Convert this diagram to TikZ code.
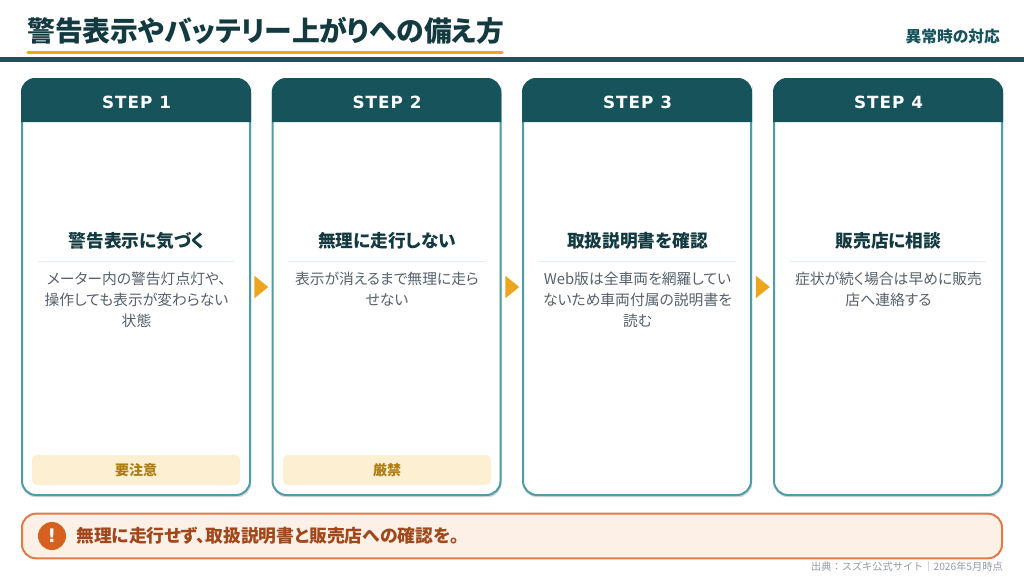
\documentclass[tikz,border=0pt]{standalone}
\usepackage{fontspec}
\usepackage{tikz}
\usetikzlibrary{shapes.geometric}
\setmainfont[RawFeature=+palt]{Noto Sans CJK JP}
\newfontfamily\sourcefont{Noto Sans CJK JP}
\newfontfamily\stepfont[LetterSpace=6]{DejaVu Sans}

\definecolor{tealdark}{HTML}{17535B}
\definecolor{tealline}{HTML}{4F9CA8}
\definecolor{inkdark}{HTML}{123A40}
\definecolor{inkgray}{HTML}{56616B}
\definecolor{rulelight}{HTML}{DCEEF0}
\definecolor{amber}{HTML}{EBA51E}
\definecolor{badgefill}{HTML}{FDEFD2}
\definecolor{badgeink}{HTML}{AE7C12}
\definecolor{notefill}{HTML}{FDF0E7}
\definecolor{noteline}{HTML}{E07C4A}
\definecolor{noteink}{HTML}{A0471B}
\definecolor{noteicon}{HTML}{D5601F}
\definecolor{sourceink}{HTML}{939CA5}

\begin{document}
\begin{tikzpicture}[x=0.75pt,y=-0.75pt,
    card/.style={rectangle,draw=tealline,line width=1.5pt,fill=white,rounded corners=10.5pt,
        minimum width=171pt,minimum height=312pt,inner sep=0pt},
    shade/.style={rectangle,fill=black!16,rounded corners=10.5pt,
        minimum width=172pt,minimum height=313pt,inner sep=0pt},
    stephead/.style={text=white,font=\stepfont\bfseries\fontsize{12.6pt}{15pt}\selectfont,inner sep=0pt},
    steptitle/.style={text=inkdark,font=\bfseries\fontsize{13.25pt}{15pt}\selectfont,inner sep=0pt},
    stepbody/.style={text=inkgray,align=center,font=\fontsize{11.1pt}{15.75pt}\selectfont,inner sep=0pt},
    badge/.style={rectangle,fill=badgefill,rounded corners=3.75pt,minimum width=156pt,minimum height=22.5pt,
        inner sep=0pt,text=badgeink,font=\bfseries\fontsize{10.5pt}{12pt}\selectfont},
    arrowmark/.style={isosceles triangle,isosceles triangle apex angle=79,isosceles triangle stretches,fill=amber,
        minimum height=10.5pt,minimum width=17pt,inner sep=0pt,anchor=west}]

\useasboundingbox (0,0) rectangle (1024,576);
\fill[white] (0,0) rectangle (1024,576);

% Title bar
\node[anchor=west,inner sep=0pt,text=inkdark,font=\bfseries\fontsize{20.85pt}{24pt}\selectfont] (title) at (27,31) {警告表示やバッテリー上がりへの備え方};
\node[anchor=east,inner sep=0pt,text=tealdark,font=\bfseries\fontsize{11.8pt}{14pt}\selectfont] (section) at (1000,36.5) {異常時の対応};
\draw[amber,line width=2.4pt,line cap=round] (28,52.5) -- (502,52.5);
\fill[tealdark] (0,57) rectangle (1024,62);

% Card shadows
\node[shade] at (136.5,288.5) {};
\node[shade] at (387,288.5) {};
\node[shade] at (637.5,288.5) {};
\node[shade] at (888.5,288.5) {};

% Cards
\node[card] (card1) at (136,287) {};
\node[card] (card2) at (386.5,287) {};
\node[card] (card3) at (637,287) {};
\node[card] (card4) at (888,287) {};

% Card headers
\fill[tealdark] (21,122) [rounded corners=10.5pt] -- (21,78) -- (251,78) -- (251,100) [sharp corners] -- (251,122) -- cycle;
\fill[tealdark] (272,122) [rounded corners=10.5pt] -- (272,78) -- (501,78) -- (501,100) [sharp corners] -- (501,122) -- cycle;
\fill[tealdark] (522,122) [rounded corners=10.5pt] -- (522,78) -- (752,78) -- (752,100) [sharp corners] -- (752,122) -- cycle;
\fill[tealdark] (773,122) [rounded corners=10.5pt] -- (773,78) -- (1003,78) -- (1003,100) [sharp corners] -- (1003,122) -- cycle;
\node[stephead] (head1) at (136.5,102) {STEP 1};
\node[stephead] (head2) at (387,102) {STEP 2};
\node[stephead] (head3) at (637.5,102) {STEP 3};
\node[stephead] (head4) at (888.5,102) {STEP 4};

% Step titles
\node[steptitle] (title1) at (136.5,241) {警告表示に気づく};
\node[steptitle] (title2) at (387,241) {無理に走行しない};
\node[steptitle] (title3) at (637.5,241) {取扱説明書を確認};
\node[steptitle] (title4) at (888.5,241) {販売店に相談};

% Dividers
\draw[rulelight,line width=0.75pt] (38,261) -- (235,261);
\draw[rulelight,line width=0.75pt] (288,261) -- (485,261);
\draw[rulelight,line width=0.75pt] (539,261) -- (736,261);
\draw[rulelight,line width=0.75pt] (789,261) -- (986,261);

% Step texts
\node[stepbody,anchor=north] (body1) at (136.5,272) {メーター内の警告灯点灯や、\\操作しても表示が変わらない\\状態};
\node[stepbody,anchor=north] (body2) at (387,272) {表示が消えるまで無理に走ら\\せない};
\node[stepbody,anchor=north] (body3) at (637.5,272) {Web版は全車両を網羅してい\\ないため車両付属の説明書を\\読む};
\node[stepbody,anchor=north] (body4) at (888.5,272) {症状が続く場合は早めに販売\\店へ連絡する};

% Badges
\node[badge] (badge1) at (136,470) {要注意};
\node[badge] (badge2) at (387,470) {厳禁};

% Arrow marks between cards
\node[arrowmark] (mark1) at (254,287) {};
\node[arrowmark] (mark2) at (505,287) {};
\node[arrowmark] (mark3) at (755.5,287) {};

% Closing note
\node[rectangle,draw=noteline,line width=1.5pt,fill=notefill,rounded corners=10.5pt,
    minimum width=735pt,minimum height=33.5pt,inner sep=0pt] (note) at (512,536) {};
\node[circle,fill=noteicon,minimum size=21pt,inner sep=0pt,text=white,
    font=\stepfont\bfseries\fontsize{14pt}{16pt}\selectfont] (icon) at (52,536) {!};
\node[anchor=west,inner sep=0pt,text=noteink,font=\bfseries\fontsize{13.35pt}{15pt}\selectfont] (notetext) at (76,536) {無理に走行せず、取扱説明書と販売店への確認を。};

% Source line
\node[anchor=east,inner sep=0pt,text=sourceink,font=\sourcefont\fontsize{7.65pt}{10pt}\selectfont] (source) at (1003,566.5) {出典：スズキ公式サイト｜2026年5月時点};

\end{tikzpicture}
\end{document}
